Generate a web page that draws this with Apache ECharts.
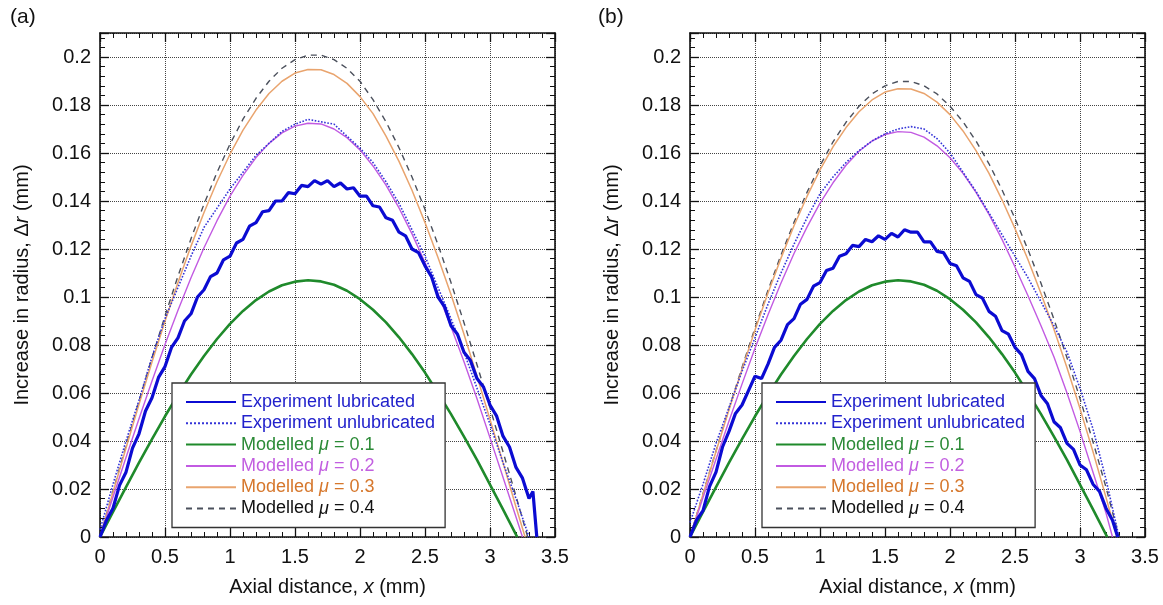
<!DOCTYPE html>
<html>
<head>
<meta charset="utf-8">
<script src="https://cdn.jsdelivr.net/npm/echarts@6/dist/echarts.min.js"></script>
<style>
html,body{margin:0;padding:0;background:#fff;}
#c{width:1163px;height:605px;}
</style>
</head>
<body>
<div id="c"></div>
<script>
// ---------- data ----------
const panelLabels = ['(a)', '(b)'];
const seriesNames = ['Experiment lubricated', 'Experiment unlubricated', 'Modelled μ = 0.1', 'Modelled μ = 0.2', 'Modelled μ = 0.3', 'Modelled μ = 0.4'];

const x10 = [0,0.1,0.2,0.3,0.4,0.5,0.6,0.7,0.8,0.9,1.0,1.1,1.2,1.3,1.4,1.5,1.6,1.7,1.8,1.9,2.0,2.1,2.2,2.3,2.4,2.5,2.6,2.7,2.8,2.9,3.0,3.1,3.2];
const x05 = [0,0.05,0.1,0.15,0.2,0.25,0.3,0.35,0.4,0.45,0.5,0.55,0.6,0.65,0.7,0.75,0.8,0.85,0.9,0.95,1,1.05,1.1,1.15,1.2,1.25,1.3,1.35,1.4,1.45,1.5,1.55,1.6,1.65,1.7,1.75,1.8,1.85,1.9,1.95,2,2.05,2.1,2.15,2.2,2.25,2.3,2.35,2.4,2.45,2.5,2.55,2.6,2.65,2.7,2.75,2.8,2.85,2.9,2.95,3,3.05,3.1,3.15,3.2,3.25,3.3];

// panel (a)
const a_lub = [0,0.007,0.012,0.0215,0.027,0.037,0.043,0.0525,0.058,0.0665,
  0.071,0.079,0.083,0.090,0.093,0.100,0.103,0.1085,0.110,0.1155,
  0.117,0.1225,0.124,0.1295,0.131,0.1355,0.136,0.140,0.140,0.1435,
  0.143,0.1465,0.146,0.1485,0.147,0.1485,0.146,0.1475,0.145,0.1455,
  0.142,0.142,0.138,0.1375,0.133,0.132,0.127,0.1255,0.120,0.1185,
  0.113,0.1085,0.100,0.096,0.088,0.0845,0.077,0.0735,0.066,0.0625,
  0.055,0.0505,0.042,0.0375,0.029,0.0245,0.016];
const a_lub_tail = [[3.33,0.019],[3.36,0]];
const a_unlub = [0.003,0.022,0.040,0.057,0.075,0.091,0.104,0.117,0.129,0.137,0.145,0.152,0.159,0.164,0.169,0.172,0.174,0.173,0.172,0.167,0.162,0.156,0.148,0.139,0.128,0.117,0.104,0.091,0.077,0.062,0.047,0.031,0.016];
const a_unlub_end = 3.3;
const a_mu01 = [0,0.0105,0.0208,0.0310,0.0408,0.0503,0.0593,0.0677,0.0754,0.0825,0.0888,0.0942,0.0987,0.1023,0.1049,0.1064,0.1070,0.1065,0.1051,0.1026,0.0991,0.0947,0.0894,0.0832,0.0762,0.0685,0.0600,0.0512,0.0418,0.0321,0.0218,0.0115,0.0010];
const a_mu01_end = 3.21;
const a_mu02 = [0,0.0167,0.0331,0.0493,0.0650,0.0802,0.0945,0.1080,0.1205,0.1318,0.1420,0.1507,0.1581,0.1640,0.1684,0.1712,0.1724,0.1721,0.1700,0.1664,0.1613,0.1546,0.1466,0.1371,0.1263,0.1144,0.1014,0.0876,0.0730,0.0576,0.0413,0.0249,0.0083];
const a_mu02_end = 3.25;
const a_mu03 = [0,0.0186,0.0371,0.0553,0.0729,0.0899,0.1060,0.1212,0.1352,0.1480,0.1595,0.1695,0.1779,0.1848,0.1899,0.1933,0.1948,0.1947,0.1927,0.1890,0.1835,0.1764,0.1670,0.1565,0.1445,0.1310,0.1165,0.1010,0.0845,0.0670,0.0490,0.0310,0.0125];
const a_mu03_end = 3.27;
const a_mu04 = [0,0.0191,0.0380,0.0566,0.0747,0.0921,0.1087,0.1243,0.1387,0.1519,0.1637,0.1741,0.1828,0.1899,0.1953,0.1989,0.2008,0.2008,0.1989,0.1953,0.1899,0.1822,0.1730,0.1622,0.1500,0.1365,0.1218,0.1060,0.0893,0.0718,0.0538,0.0355,0.0170];
const a_mu04_end = 3.29;

// panel (b)
const b_lub = [0,0.007,0.011,0.021,0.027,0.0375,0.044,0.0515,0.055,0.061,
  0.067,0.066,0.072,0.079,0.082,0.0885,0.091,0.097,0.099,0.1045,
  0.106,0.111,0.112,0.117,0.118,0.1215,0.121,0.124,0.123,0.1255,
  0.124,0.1265,0.125,0.128,0.127,0.127,0.123,0.123,0.119,0.1185,
  0.114,0.113,0.108,0.1065,0.101,0.0995,0.094,0.092,0.086,0.0845,
  0.079,0.076,0.069,0.066,0.059,0.0555,0.048,0.0455,0.039,0.0365,
  0.030,0.028,0.022,0.019,0.012,0.007];
const b_lub_tail = [[3.29,0]];
const b_unlub = [0.006,0.022,0.039,0.054,0.069,0.083,0.097,0.110,0.122,0.133,0.143,0.150,0.156,0.161,0.165,0.168,0.170,0.171,0.170,0.166,0.160,0.152,0.144,0.135,0.126,0.117,0.108,0.098,0.088,0.077,0.062,0.045,0.024];
const b_unlub_end = 3.3;
const b_mu01 = [0,0.0105,0.0208,0.0310,0.0408,0.0503,0.0593,0.0677,0.0754,0.0825,0.0888,0.0942,0.0987,0.1023,0.1049,0.1064,0.1070,0.1065,0.1051,0.1026,0.0991,0.0947,0.0894,0.0832,0.0762,0.0685,0.0600,0.0512,0.0418,0.0321,0.0218,0.0115,0.0010];
const b_mu01_end = 3.21;
const b_mu02 = [0,0.0164,0.0324,0.0483,0.0637,0.0786,0.0926,0.1058,0.1181,0.1291,0.1391,0.1476,0.1549,0.1607,0.1650,0.1677,0.1689,0.1686,0.1666,0.1630,0.1580,0.1515,0.1436,0.1344,0.1240,0.1125,0.1005,0.0880,0.0750,0.0600,0.0440,0.0270,0.0100];
const b_mu02_end = 3.25;
const b_mu03 = [0,0.0178,0.0356,0.0530,0.0699,0.0862,0.1017,0.1162,0.1297,0.1419,0.1530,0.1626,0.1706,0.1772,0.1821,0.1854,0.1868,0.1867,0.1848,0.1812,0.1760,0.1692,0.1610,0.1515,0.1405,0.1285,0.1155,0.1015,0.0865,0.0705,0.0535,0.0355,0.0165];
const b_mu03_end = 3.285;
const b_mu04 = [0,0.0181,0.0359,0.0535,0.0706,0.0871,0.1028,0.1175,0.1311,0.1436,0.1547,0.1646,0.1728,0.1795,0.1846,0.1880,0.1898,0.1898,0.1880,0.1846,0.1795,0.1730,0.1650,0.1555,0.1447,0.1327,0.1197,0.1057,0.0907,0.0747,0.0577,0.0397,0.0207];
const b_mu04_end = 3.3;

// ---------- build ----------
const FONT = '"Liberation Sans", Arial, Helvetica, sans-serif';
function pairs(xs, ys, tail) {
  const n = Math.min(xs.length, ys.length);
  const out = [];
  for (let i = 0; i < n; i++) out.push([xs[i], ys[i]]);
  return out.concat(tail);
}
const styles = {
  'Experiment lubricated':   {color:'#0b0bd2', width:3.2, type:'solid', z:8},
  'Experiment unlubricated': {color:'#3434d8', width:1.6, type:'dotted', z:7},
  'Modelled μ = 0.1':        {color:'#1f8a2b', width:2.6, type:'solid', z:5},
  'Modelled μ = 0.2':        {color:'#c25ae2', width:1.4, type:'solid', z:4},
  'Modelled μ = 0.3':        {color:'#e9a46e', width:1.5, type:'solid', z:3},
  'Modelled μ = 0.4':        {color:'#4b505c', width:1.4, type:[6,5], z:2}
};
const panelData = [
  {
    'Experiment lubricated': pairs(x05, a_lub, a_lub_tail),
    'Experiment unlubricated': pairs(x10, a_unlub, [[a_unlub_end, 0]]),
    'Modelled μ = 0.1': pairs(x10, a_mu01, [[a_mu01_end, 0]]),
    'Modelled μ = 0.2': pairs(x10, a_mu02, [[a_mu02_end, 0]]),
    'Modelled μ = 0.3': pairs(x10, a_mu03, [[a_mu03_end, 0]]),
    'Modelled μ = 0.4': pairs(x10, a_mu04, [[a_mu04_end, 0]])
  },
  {
    'Experiment lubricated': pairs(x05, b_lub, b_lub_tail),
    'Experiment unlubricated': pairs(x10, b_unlub, [[b_unlub_end, 0]]),
    'Modelled μ = 0.1': pairs(x10, b_mu01, [[b_mu01_end, 0]]),
    'Modelled μ = 0.2': pairs(x10, b_mu02, [[b_mu02_end, 0]]),
    'Modelled μ = 0.3': pairs(x10, b_mu03, [[b_mu03_end, 0]]),
    'Modelled μ = 0.4': pairs(x10, b_mu04, [[b_mu04_end, 0]])
  }
];

const grids = [
  {left:100, top:33, width:455, height:504},
  {left:690, top:33, width:455, height:504}
];
const fmt = v => (Math.abs(v) < 1e-9 ? '0' : String(+v.toFixed(2)));
const lineCol = '#111';
function xAx(gi, pos) {
  const main = pos === 'bottom';
  return {
    type:'value', gridIndex:gi, position:pos, min:0, max:3.5, interval:0.5,
    axisLine:{show:true, onZero:false, lineStyle:{color:lineCol, width:1.6}},
    axisTick:{show:true, inside:true, length:9, lineStyle:{color:lineCol, width:1.3}},
    minorTick:{show:true, splitNumber:5, length:5, lineStyle:{color:lineCol, width:1}},
    splitLine:{show:main, lineStyle:{color:'#444', type:'dotted', width:1}},
    axisLabel:{show:main, fontSize:20, color:'#111', fontFamily:FONT, margin:10, formatter:fmt},
    name: main ? '{n|Axial distance, }{i|x}{n| (mm)}' : '',
    nameLocation:'middle', nameGap:40,
    nameTextStyle:{fontFamily:FONT, fontSize:20, color:'#111',
      rich:{n:{fontSize:20, fontFamily:FONT, color:'#111'}, i:{fontSize:20, fontFamily:FONT, fontStyle:'italic', color:'#111'}}}
  };
}
function yAx(gi, pos) {
  const main = pos === 'left';
  return {
    type:'value', gridIndex:gi, position:pos, min:0, max:0.21, interval:0.02,
    axisLine:{show:true, onZero:false, lineStyle:{color:lineCol, width:1.6}},
    axisTick:{show:true, inside:true, length:9, lineStyle:{color:lineCol, width:1.3}},
    minorTick:{show:true, splitNumber:5, length:5, lineStyle:{color:lineCol, width:1}},
    splitLine:{show:main, lineStyle:{color:'#444', type:'dotted', width:1}},
    axisLabel:{show:main, fontSize:20, color:'#111', fontFamily:FONT, margin:9, formatter:fmt, showMaxLabel:false},
    name: main ? '{n|Increase in radius, Δ}{i|r}{n| (mm)}' : '',
    nameLocation:'middle', nameGap:68,
    nameTextStyle:{fontFamily:FONT, fontSize:20, color:'#111',
      rich:{n:{fontSize:20, fontFamily:FONT, color:'#111'}, i:{fontSize:20, fontFamily:FONT, fontStyle:'italic', color:'#111'}}}
  };
}

const xAxes = [xAx(0,'bottom'), xAx(0,'top'), xAx(1,'bottom'), xAx(1,'top')];
const yAxes = [yAx(0,'left'), yAx(0,'right'), yAx(1,'left'), yAx(1,'right')];

const series = [];
panelData.forEach((pd, p) => {
  seriesNames.forEach(name => {
    const st = styles[name];
    series.push({
      type:'line', name:name, xAxisIndex:p*2, yAxisIndex:p*2,
      data: pd[name], symbol:'none', showSymbol:false, smooth:false, clip:true, z:st.z,
      lineStyle:{color:st.color, width:st.width, type:st.type},
      itemStyle:{color:st.color}, emphasis:{disabled:true}
    });
  });
});

const legendKey = {
  'Experiment lubricated':'b', 'Experiment unlubricated':'b',
  'Modelled μ = 0.1':'g', 'Modelled μ = 0.2':'p', 'Modelled μ = 0.3':'o', 'Modelled μ = 0.4':'k'
};
const legendCols = {b:'#2222cc', g:'#2b8a36', p:'#c25fe0', o:'#d6772c', k:'#111111'};
const rich = {};
Object.keys(legendCols).forEach(k => {
  rich[k] = {color:legendCols[k], fontSize:18, fontFamily:FONT, lineHeight:18};
  rich[k + 'i'] = {color:legendCols[k], fontSize:18, fontFamily:FONT, fontStyle:'italic', lineHeight:18};
});
function legendFmt(name) {
  const k = legendKey[name];
  if (name.indexOf('μ') >= 0) {
    const parts = name.split('μ');
    return '{' + k + '|' + parts[0] + '}{' + k + 'i|μ}{' + k + '|' + parts[1] + '}';
  }
  return '{' + k + '|' + name + '}';
}
function legend(left) {
  return {
    show:true, orient:'vertical', left:left, top:383, data:seriesNames,
    itemWidth:50, itemHeight:14, itemGap:3.3,
    padding:[10, 10, 10, 13],
    backgroundColor:'#ffffff', borderColor:'#333', borderWidth:1.3,
    selectedMode:false, formatter:legendFmt,
    itemStyle:{opacity:0, borderWidth:0},
    textStyle:{fontSize:18, fontFamily:FONT, lineHeight:18, rich:rich},
    z:10
  };
}

const option = {
  animation:false,
  backgroundColor:'#ffffff',
  grid: grids,
  xAxis: xAxes,
  yAxis: yAxes,
  legend: [legend(172), legend(762)],
  graphic: [
    {type:'text', left:10, top:7, style:{text:panelLabels[0], fontSize:21, fontFamily:FONT, fill:'#111'}},
    {type:'text', left:598, top:7, style:{text:panelLabels[1], fontSize:21, fontFamily:FONT, fill:'#111'}}
  ],
  series: series
};
const chart = echarts.init(document.getElementById('c'), null, {renderer:'canvas'});
chart.setOption(option);
</script>
</body>
</html>
